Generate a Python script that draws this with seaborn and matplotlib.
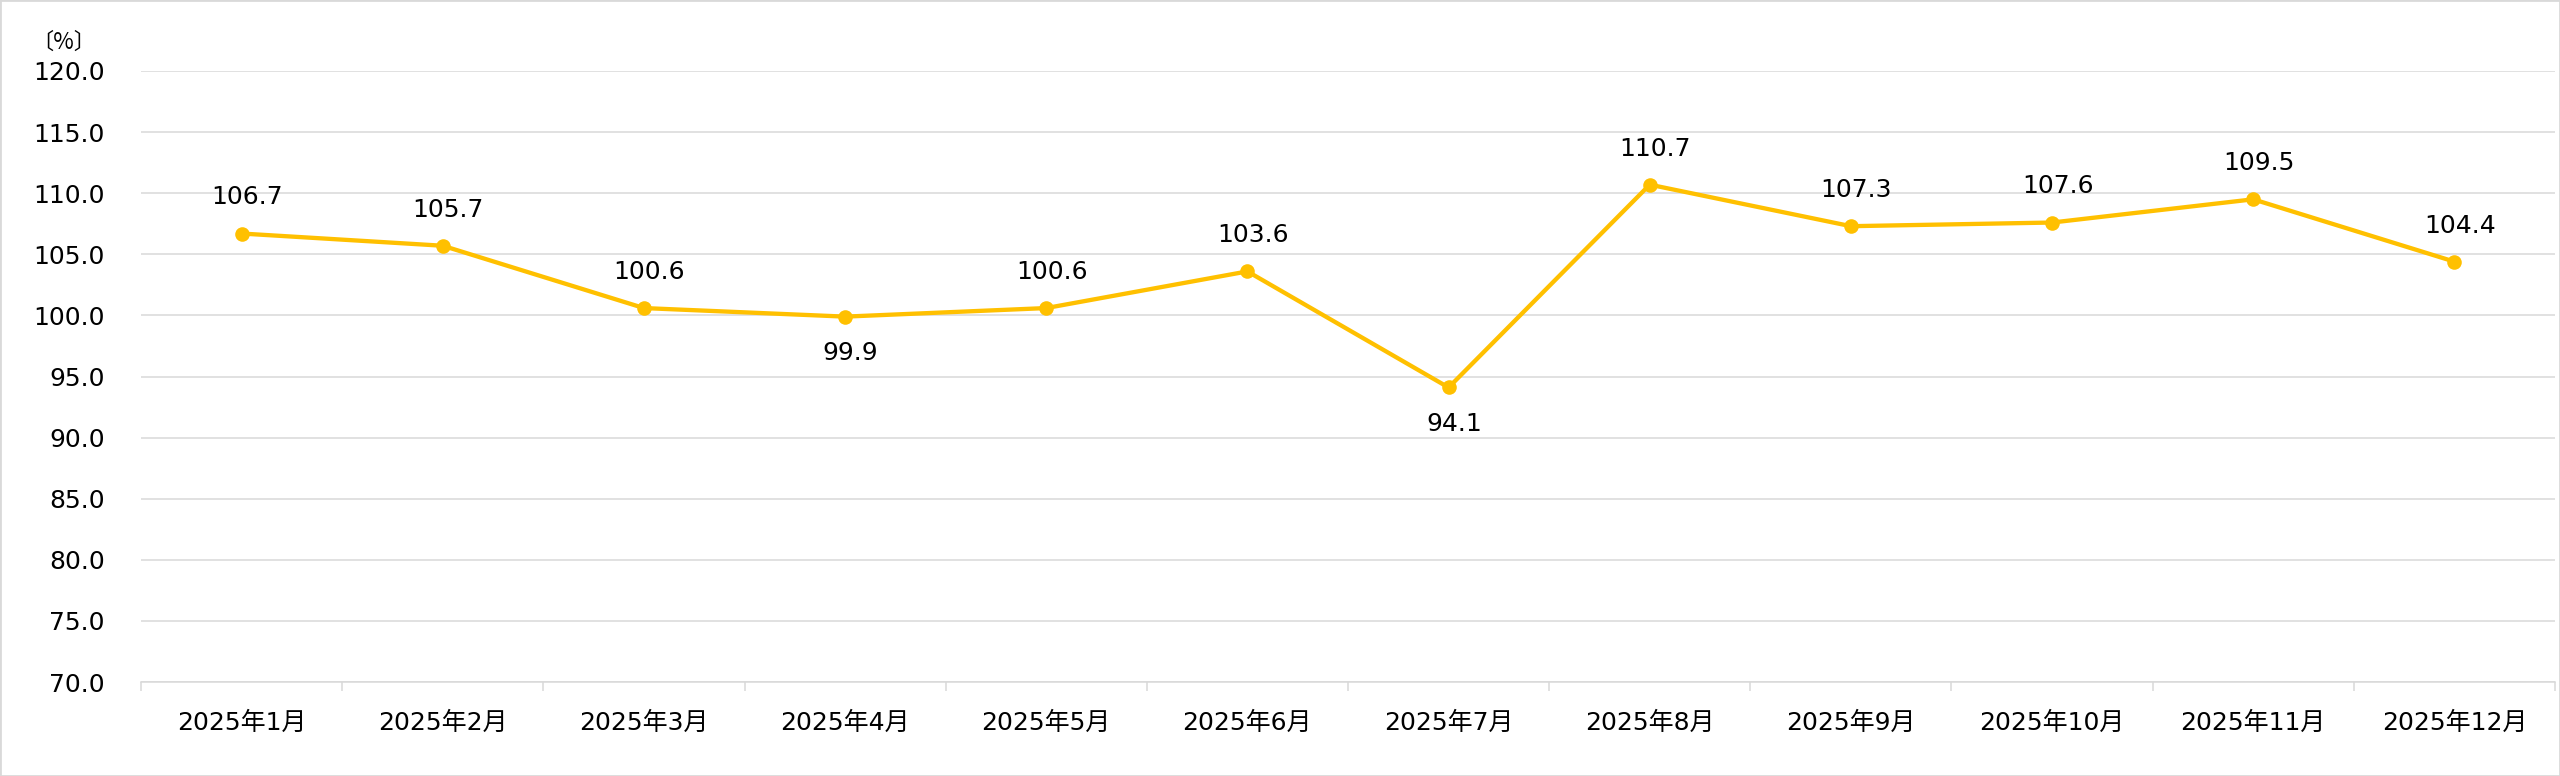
import matplotlib
matplotlib.use("Agg")
import matplotlib.pyplot as plt
import seaborn as sns
import pandas as pd
import numpy as np
from matplotlib.patches import Rectangle

months = ["2025年1月", "2025年2月", "2025年3月", "2025年4月", "2025年5月", "2025年6月",
          "2025年7月", "2025年8月", "2025年9月", "2025年10月", "2025年11月", "2025年12月"]
values = [106.7, 105.7, 100.6, 99.9, 100.6, 103.6, 94.1, 110.7, 107.3, 107.6, 109.5, 104.4]
label_below = [False, False, False, True, False, False, True, False, False, False, False, False]
y_ticks = [70.0, 75.0, 80.0, 85.0, 90.0, 95.0, 100.0, 105.0, 110.0, 115.0, 120.0]
unit_label = "〔%〕"

sns.set_theme(style="white")
plt.rcParams['font.family'] = ['DejaVu Sans', 'Noto Sans CJK JP']

df = pd.DataFrame({"month": months, "value": values})

W, H, DPI = 2560, 776, 100
fig = plt.figure(figsize=(W / DPI, H / DPI), dpi=DPI)
ax = fig.add_axes([141 / W, 1 - 682 / H, (2555 - 141) / W, (682 - 71) / H])

line_color = "#FFC000"
grid_color = "#D9D9D9"

sns.lineplot(data=df, x="month", y="value", ax=ax, color=line_color, linewidth=3.1,
             marker="o", markersize=10.5, markeredgewidth=0, sort=False)

ax.set_xlim(-0.5, len(months) - 0.5)
ax.set_ylim(70, 120)
ax.set_yticks(y_ticks)
ax.set_yticklabels([f"{v:.1f}" for v in y_ticks])
ax.set_xticks(range(len(months)))
ax.set_xticklabels(months)
ax.set_xticks(np.arange(-0.5, len(months) + 0.5, 1.0), minor=True)

ax.set_xlabel("")
ax.set_ylabel("")
ax.yaxis.grid(True, color=grid_color, linewidth=1.1)
ax.xaxis.grid(False)
ax.set_axisbelow(True)
for s in ["left", "top", "right"]:
    ax.spines[s].set_visible(False)
ax.spines["bottom"].set_color(grid_color)
ax.spines["bottom"].set_linewidth(1.1)

ax.tick_params(axis="y", length=0, pad=26, labelsize=18, labelcolor="#000000")
ax.tick_params(axis="x", which="major", length=0, pad=21, labelsize=18, labelcolor="#000000")
ax.tick_params(axis="x", which="minor", length=6.5, width=1.1, color=grid_color, bottom=True)

for i, (v, below) in enumerate(zip(values, label_below)):
    off = -26 if below else 26
    ax.annotate(f"{v:.1f}", (i, v), xytext=(4, off), textcoords="offset points",
                ha="center", va="center", fontsize=18, color="#000000")

fig.text(31 / W, 1 - 42 / H, unit_label, fontsize=16, ha="left", va="center",
         family=['Noto Sans CJK JP', 'DejaVu Sans'], color="#000000")

fig.patches.append(Rectangle((0, 0), 1, 1, transform=fig.transFigure, fill=False,
                             edgecolor=grid_color, linewidth=2, zorder=10))

fig.savefig("out.png", dpi=DPI, facecolor="white")
